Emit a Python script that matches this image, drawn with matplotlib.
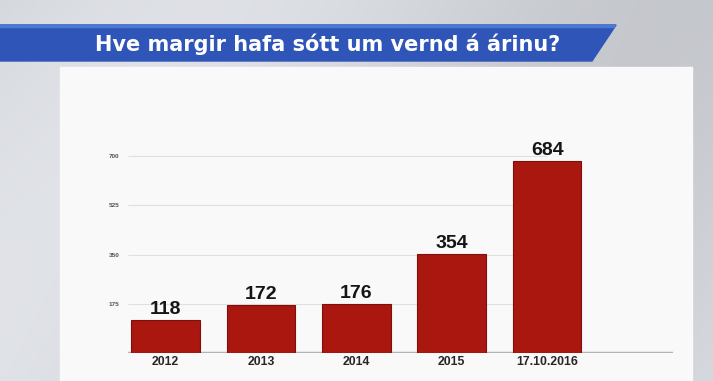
import matplotlib
matplotlib.use("Agg")
import matplotlib.pyplot as plt
import numpy as np
from matplotlib.patches import Polygon, Rectangle

categories = ["2012", "2013", "2014", "2015", "17.10.2016"]
values = [118, 172, 176, 354, 684]
yticks = [175, 350, 525, 700]
title = "Hve margir hafa sótt um vernd á árinu?"

W, H = 713, 381
fig = plt.figure(figsize=(W / 100, H / 100), dpi=100)

def fx(x):
    return x / W

def fy(y):
    return 1 - y / H

# background gradient
bg = fig.add_axes([0, 0, 1, 1], zorder=0)
bg.set_axis_off()
gx = np.linspace(0, 1, 300)
gy = np.linspace(0, 1, 160)
GX, GY = np.meshgrid(gx, gy)
grad = 0.85 + 0.04 * np.sin(GX * 5 + GY * 2) - 0.03 * GX
rgb = np.dstack([grad - 0.01, grad, grad + 0.02]).clip(0, 1)
bg.imshow(rgb, extent=[0, 1, 0, 1], aspect="auto", origin="upper")
bg.set_xlim(0, 1)
bg.set_ylim(0, 1)

# white panel
bg.add_patch(Rectangle((fx(60), 0), fx(692) - fx(60), fy(67), color="#f9f9fa", zorder=2))

# banner
bg.add_patch(Polygon([(fx(0), fy(25)), (fx(616), fy(25)), (fx(592), fy(61)), (fx(0), fy(61))],
                     closed=True, color="#2e55b7", zorder=3))
bg.add_patch(Polygon([(fx(0), fy(25)), (fx(616), fy(25)), (fx(614), fy(27.5)), (fx(0), fy(27.5))],
                     closed=True, color="#4d78d2", zorder=4))
bg.text(fx(328), fy(44), title, color="white", fontsize=15, fontweight="bold",
        family=["DejaVu Sans"], ha="center", va="center", zorder=5)

# chart axes
left_px, right_px = 128, 673
base_px, top_px = 353, 140
ax = fig.add_axes([fx(left_px), 1 - base_px / H, (right_px - left_px) / W, (base_px - top_px) / H],
                  zorder=1)
ax.patch.set_alpha(0)
pitch = 95.5
ax.set_xlim(-(165.5 - left_px) / pitch, 4 + (right_px - 547) / pitch)
px_per_unit = 0.281
ax.set_ylim(0, (base_px - top_px) / px_per_unit)

x = np.arange(len(categories))
ax.hlines(yticks, ax.get_xlim()[0], 4, color="#e0e0e0", lw=0.8, zorder=1)
ax.axhline(0, xmin=0, xmax=1, color="#b4b4b4", lw=2.5, zorder=1)
ax.bar(x, values, width=0.72, color="#a9170f", edgecolor="#7d0f0c", lw=0.8, zorder=3)
for xi, v in zip(x, values):
    ax.text(xi, v + 7, str(v), ha="center", va="bottom", fontsize=14, fontweight="bold",
            family=["Liberation Sans", "DejaVu Sans"], color="#151515", zorder=4)

ax.set_xticks(x)
ax.set_xticklabels(categories, fontsize=8.8, fontweight="bold",
                   family=["Liberation Sans", "DejaVu Sans"], color="#262626")
ax.set_yticks(yticks)
ax.set_yticklabels([str(t) for t in yticks], fontsize=4.6, fontweight="bold",
                   family=["Liberation Sans", "DejaVu Sans"], color="#555555")
ax.tick_params(axis="both", length=0)
ax.tick_params(axis="x", pad=2.5)
ax.tick_params(axis="y", pad=6)
for s in ax.spines.values():
    s.set_visible(False)

fig.savefig("out.png", dpi=100)
